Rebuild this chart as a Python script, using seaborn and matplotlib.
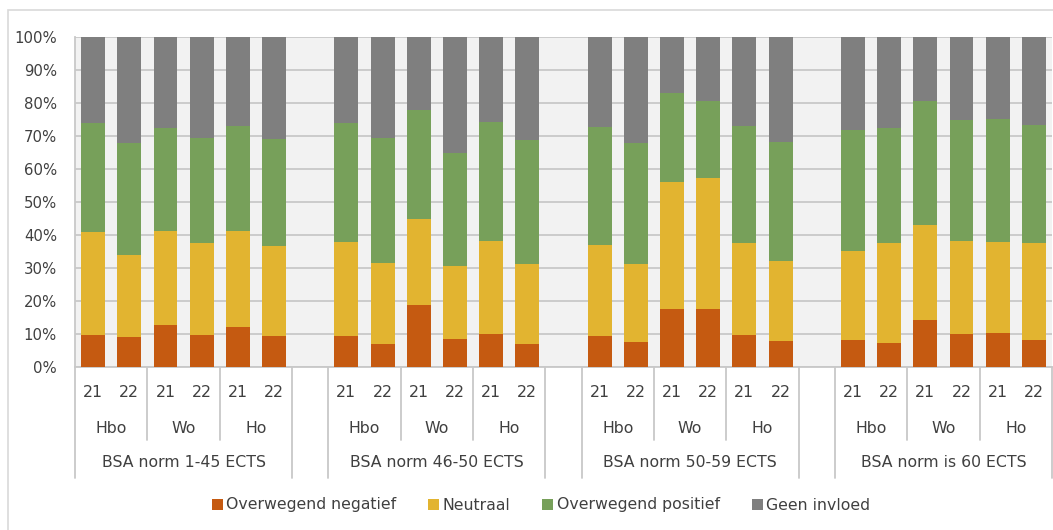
import matplotlib
matplotlib.use("Agg")
import matplotlib.pyplot as plt
import matplotlib.transforms as mtrans
from matplotlib.patches import Rectangle
import pandas as pd
import seaborn as sns

groups = ["BSA norm 1-45 ECTS", "BSA norm 46-50 ECTS", "BSA norm 50-59 ECTS", "BSA norm is 60 ECTS"]
sectors = ["Hbo", "Wo", "Ho"]
years = ["21", "22"]

categories = ["Overwegend negatief", "Neutraal", "Overwegend positief", "Geen invloed"]
colors = ["#c55a11", "#e2b430", "#77a05a", "#7f7f7f"]

# one value per bar: group x sector x year
negatief = [9.8, 9.1, 12.8, 9.7, 12.2, 9.5,
            9.3, 6.9, 18.8, 8.4, 10.0, 7.0,
            9.4, 7.6, 17.6, 17.6, 9.7, 7.8,
            8.3, 7.3, 14.2, 10.0, 10.4, 8.3]
neutraal = [31.1, 24.7, 28.4, 27.9, 28.9, 27.3,
            28.5, 24.5, 26.0, 22.1, 28.3, 24.2,
            27.5, 23.6, 38.6, 39.6, 27.8, 24.2,
            26.9, 30.2, 28.7, 28.1, 27.4, 29.3]
positief = [32.9, 34.1, 31.3, 31.7, 31.8, 32.2,
            36.1, 38.0, 33.0, 34.3, 36.0, 37.7,
            35.9, 36.7, 26.8, 23.4, 35.6, 36.3,
            36.7, 35.0, 37.8, 36.8, 37.3, 35.7]
geen = [26.2, 32.1, 27.5, 30.7, 27.1, 31.0,
        26.1, 30.6, 22.2, 35.2, 25.7, 31.1,
        27.2, 32.1, 17.0, 19.4, 26.9, 31.7,
        28.1, 27.5, 19.3, 25.1, 24.9, 26.7]

# build table, one slot per bar plus an empty slot between groups
rows = []
i = 0
for g, grp in enumerate(groups):
    for s, sec in enumerate(sectors):
        for y, yr in enumerate(years):
            slot = g * 7 + s * 2 + y
            rows.append({"slot": slot, "group": grp, "sector": sec, "year": yr,
                         categories[0]: negatief[i], categories[1]: neutraal[i],
                         categories[2]: positief[i], categories[3]: geen[i]})
            i += 1
df = pd.DataFrame(rows)
cum = df[categories].cumsum(axis=1)
n_slots = len(groups) * 7 - 1

sns.set_style("white")
plt.rcParams["font.family"] = ["DejaVu Sans"]
text_color = "#404040"
line_color = "#c8c8c8"
fs = 11.3

fig = plt.figure(figsize=(10.53, 5.30), dpi=100)
ax = fig.add_axes([75 / 1053, 163 / 530, 977 / 1053, 330 / 530])
ax.set_facecolor("#f2f2f2")

# outer chart border
fig.patches.append(Rectangle((8 / 1053, -0.1), 1.2, 1.1 - 10 / 530, transform=fig.transFigure,
                             fill=False, edgecolor="#d9d9d9", linewidth=1.2, zorder=0))

# stacked bars by overlaying cumulative totals, top segment first
for k in range(len(categories) - 1, -1, -1):
    sns.barplot(x=df["slot"], y=cum[categories[k]], native_scale=True, width=0.66,
                color=colors[k], saturation=1, label=categories[k], ax=ax,
                errorbar=None, zorder=3, linewidth=0)

ax.set_xlim(-0.5, n_slots - 0.5)
ax.set_ylim(0, 100)
ax.set_yticks(range(0, 101, 10))
ax.set_yticklabels([f"{v}%" for v in range(0, 101, 10)])
ax.yaxis.grid(True, color=line_color, linewidth=1.3, zorder=0)
ax.set_axisbelow(True)
ax.tick_params(axis="y", length=0, pad=13, labelsize=10.7, labelcolor=text_color)
ax.set_xticks([])
ax.set_xlabel("")
ax.set_ylabel("")
for side in ["top", "right"]:
    ax.spines[side].set_visible(False)
for side in ["left", "bottom"]:
    ax.spines[side].set_color(line_color)
    ax.spines[side].set_linewidth(1.3)

# multi-level category axis
tr = mtrans.blended_transform_factory(ax.transData, ax.transAxes)
y_year, y_sec, y_grp = -0.076, -0.185, -0.288
sub_bottom, grp_bottom = -0.221, -0.336
for g, grp in enumerate(groups):
    start = g * 7
    for s, sec in enumerate(sectors):
        for y, yr in enumerate(years):
            ax.text(start + s * 2 + y, y_year, yr, transform=tr, ha="center", va="center",
                    fontsize=fs, color=text_color)
        ax.text(start + s * 2 + 0.5, y_sec, sec, transform=tr, ha="center", va="center",
                fontsize=fs, color=text_color)
        if s > 0:
            ax.plot([start + s * 2 - 0.5] * 2, [0, sub_bottom], transform=tr, color=line_color,
                    linewidth=1.3, clip_on=False)
    ax.text(start + 2.5, y_grp, grp, transform=tr, ha="center", va="center",
            fontsize=fs, color=text_color)
    for edge in [start - 0.5, start + 5.5]:
        ax.plot([edge] * 2, [0, grp_bottom], transform=tr, color=line_color,
                linewidth=1.3, clip_on=False)

handles, labels = ax.get_legend_handles_labels()
if ax.get_legend() is not None:
    ax.get_legend().remove()
fig.legend(handles[::-1], labels[::-1], loc="center", bbox_to_anchor=(541 / 1053, 25 / 530),
           ncol=4, frameon=False, fontsize=fs, handlelength=0.7, handleheight=0.7,
           handletextpad=0.25, columnspacing=2.0, labelcolor=text_color)

fig.savefig("out.png", dpi=100)
